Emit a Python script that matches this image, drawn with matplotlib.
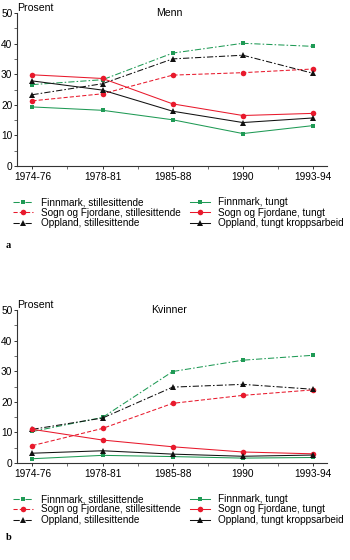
import numpy as np
import matplotlib
matplotlib.use('Agg')
import matplotlib.pyplot as plt
from matplotlib.ticker import MultipleLocator

plt.rcParams['font.family'] = ['Liberation Sans', 'DejaVu Sans']

periods = ['1974-76', '1978-81', '1985-88', '1990', '1993-94']

# Menn
menn_finn_stille = [26.6, 28.2, 36.9, 40.1, 39.1]
menn_finn_tungt = [19.3, 18.2, 15.1, 10.6, 13.2]
menn_sogn_stille = [21.3, 23.6, 29.7, 30.5, 31.7]
menn_sogn_tungt = [29.8, 28.6, 20.3, 16.5, 17.2]
menn_oppl_stille = [23.3, 26.9, 35.0, 36.2, 30.3]
menn_oppl_tungt = [27.8, 24.8, 17.9, 14.2, 15.7]

# Kvinner
kv_finn_stille = [10.3, 14.9, 29.9, 33.6, 35.2]
kv_finn_tungt = [1.4, 2.5, 2.1, 1.6, 1.8]
kv_sogn_stille = [5.7, 11.3, 19.5, 22.1, 23.9]
kv_sogn_tungt = [11.0, 7.5, 5.3, 3.6, 3.0]
kv_oppl_stille = [11.0, 14.7, 24.8, 25.7, 24.1]
kv_oppl_tungt = [3.2, 4.0, 2.9, 2.2, 2.6]

labels = ['Finnmark, stillesittende', 'Sogn og Fjordane, stillesittende',
          'Oppland, stillesittende', 'Finnmark, tungt',
          'Sogn og Fjordane, tungt', 'Oppland, tungt kroppsarbeid']

GREEN = '#1f9a55'
RED = '#e8192c'
BLACK = '#111111'
DASHDOT = (0, (6, 2, 1.5, 2))
DASH = (0, (4, 2))

W, H = 350, 560
fig = plt.figure(figsize=(W / 100, H / 100), dpi=100)


def make_panel(top_px, bottom_px, title, series):
    ax = fig.add_axes([17 / W, 1 - bottom_px / H, (327 - 17) / W, (bottom_px - top_px) / H])
    x = np.arange(len(periods))
    (fs, ss, os_, ft, st, ot) = series
    styles = [
        (fs, GREEN, DASHDOT, 's', 3.4),
        (ss, RED, DASH, 'o', 4.0),
        (os_, BLACK, DASHDOT, '^', 4.0),
        (ft, GREEN, '-', 's', 3.4),
        (st, RED, '-', 'o', 4.0),
        (ot, BLACK, '-', '^', 4.0),
    ]
    handles = []
    for (vals, c, ls, m, ms), lab in zip(styles, labels):
        h, = ax.plot(x, vals, color=c, linestyle=ls, linewidth=0.75, marker=m,
                     markersize=ms, markeredgewidth=0, label=lab)
        handles.append(h)
    ax.set_xlim(-0.22, 4.2)
    ax.set_ylim(0, 50)
    ax.set_xticks(x)
    ax.set_xticklabels(periods)
    ax.xaxis.set_minor_locator(MultipleLocator(0.5))
    ax.yaxis.set_major_locator(MultipleLocator(10))
    ax.yaxis.set_minor_locator(MultipleLocator(5))
    for s in ['top', 'right']:
        ax.spines[s].set_visible(False)
    for s in ['left', 'bottom']:
        ax.spines[s].set_linewidth(0.8)
        ax.spines[s].set_color('#333333')
    ax.tick_params(which='major', length=2.5, width=0.7, labelsize=7.3, pad=1.5, colors='#333333',
                   labelcolor='black')
    ax.tick_params(axis='y', which='major', pad=0.8)
    ax.tick_params(which='minor', length=2, width=0.6, colors='#555555')
    ax.text(0.0, 1.0, 'Prosent', transform=ax.transAxes, fontsize=7.6,
            ha='left', va='bottom')
    ax.text(0.49, 1.0, title, transform=ax.transAxes, fontsize=7.6,
            ha='center', va='center')
    return ax, handles


ax1, h1 = make_panel(13, 166, 'Menn',
                     [menn_finn_stille, menn_sogn_stille, menn_oppl_stille,
                      menn_finn_tungt, menn_sogn_tungt, menn_oppl_tungt])
ax2, h2 = make_panel(310, 463, 'Kvinner',
                     [kv_finn_stille, kv_sogn_stille, kv_oppl_stille,
                      kv_finn_tungt, kv_sogn_tungt, kv_oppl_tungt])

for handles, ytop in [(h1, 197), (h2, 494)]:
    fig.legend(handles=handles, loc='upper left', bbox_to_anchor=(13 / W, 1 - ytop / H),
               ncol=2, frameon=False, fontsize=7.2, handlelength=2.0,
               handletextpad=0.8, columnspacing=0.9, labelspacing=0.05,
               borderpad=0, borderaxespad=0)

fig.text(6 / W, 1 - 245 / H, 'a', fontsize=7.5, fontweight='bold',
         family=['Liberation Serif', 'DejaVu Serif'], ha='left', va='center')
fig.text(6 / W, 1 - 538 / H, 'b', fontsize=7.5, fontweight='bold',
         family=['Liberation Serif', 'DejaVu Serif'], ha='left', va='center')

fig.savefig('out.png', dpi=100)
